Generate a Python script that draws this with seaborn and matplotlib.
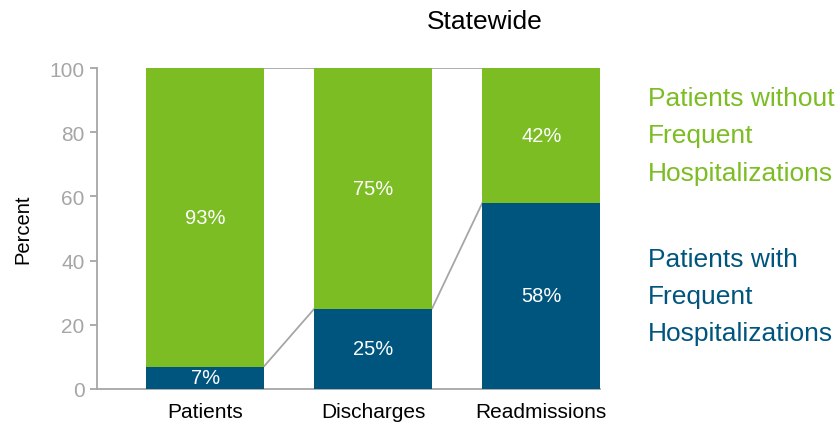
import numpy as np
import pandas as pd
import matplotlib
matplotlib.use("Agg")
import matplotlib.pyplot as plt
import seaborn as sns

# Datos
categorias = ["Patients", "Discharges", "Readmissions"]
con_frecuentes = [7, 25, 58]
sin_frecuentes = [93, 75, 42]
serie_con = "Patients with\nFrequent\nHospitalizations"
serie_sin = "Patients without\nFrequent\nHospitalizations"
titulo = "Statewide"

verde = "#7BBD22"
azul = "#00557F"
gris = "#A6A6A6"

sns.set_style("white")
plt.rcParams["font.family"] = ["Liberation Sans", "DejaVu Sans"]
plt.rcParams["text.color"] = "black"
plt.rcParams["axes.labelcolor"] = "black"
plt.rcParams["xtick.color"] = "black"

df = pd.DataFrame({"categoria": categorias,
                   "con": con_frecuentes,
                   "sin": sin_frecuentes})
df["total"] = df["con"] + df["sin"]

fig = plt.figure(figsize=(8.38, 4.27), dpi=100)
ax = fig.add_axes([0.1158, 0.0867, 0.6002, 0.7517])

ancho = 0.7
sns.barplot(data=df, x="categoria", y="total", color=verde, width=ancho,
            saturation=1, linewidth=0, ax=ax, zorder=2)
sns.barplot(data=df, x="categoria", y="con", color=azul, width=ancho,
            saturation=1, linewidth=0, ax=ax, zorder=3)

# Lineas conectoras entre barras
for i in range(len(categorias) - 1):
    ax.plot([i + ancho / 2, i + 1 - ancho / 2], [df["con"][i], df["con"][i + 1]],
            color=gris, lw=1.3, zorder=1)
    ax.plot([i + ancho / 2, i + 1 - ancho / 2], [df["total"][i], df["total"][i + 1]],
            color=gris, lw=1.3, zorder=1)

# Etiquetas dentro de las barras
for i in range(len(categorias)):
    ax.text(i, df["con"][i] / 2, f"{df['con'][i]}%", ha="center", va="center",
            color="white", fontsize=14.5, zorder=4)
    ax.text(i, df["con"][i] + df["sin"][i] / 2, f"{df['sin'][i]}%", ha="center",
            va="center", color="white", fontsize=14.5, zorder=4)

ax.set_xlim(-0.643, 2.35)
ax.set_ylim(0, 100)
ax.set_yticks(range(0, 101, 20))
ax.set_xlabel("")
ax.set_ylabel("Percent", fontsize=14.5, labelpad=12)
ax.tick_params(axis="y", left=True, length=5, width=1.3, color=gris,
               labelcolor=gris, labelsize=15, pad=4)
ax.tick_params(axis="x", bottom=False, labelsize=15, pad=6, labelcolor="black")
sns.despine(ax=ax)
for lado in ["left", "bottom"]:
    ax.spines[lado].set_color(gris)
    ax.spines[lado].set_linewidth(1.3)

fig.text(0.578, 0.948, titulo, ha="center", va="center", fontsize=19)
fig.text(0.773, 0.681, serie_sin, ha="left", va="center", fontsize=19,
         color=verde, linespacing=1.7)
fig.text(0.773, 0.304, serie_con, ha="left", va="center", fontsize=19,
         color=azul, linespacing=1.7)

fig.savefig("out.png", dpi=100)
